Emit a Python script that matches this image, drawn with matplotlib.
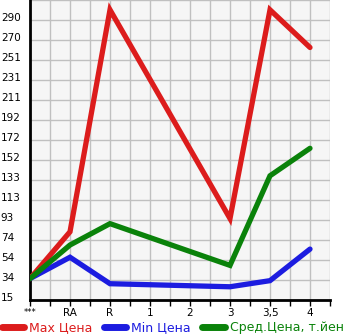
import numpy as np
import matplotlib.pyplot as plt
import matplotlib.transforms as mtransforms

# categories on x axis
categories = ["***", "RA", "R", "1", "2", "3", "3,5", "4"]
# values (nan = no data, line skips over)
max_price = [36, 82, 300, np.nan, np.nan, 95, 300, 263]
min_price = [36, 57, 31, np.nan, np.nan, 28, 34, 65]
avg_price = [36, 69, 90, np.nan, np.nan, 49, 137, 164]
ytick_labels = ["15", "34", "54", "74", "93", "113", "133", "152", "172",
                "192", "211", "231", "251", "270", "290"]

red = "#dc1c1c"
blue = "#1c1ce0"
green = "#0a820a"

fig = plt.figure(figsize=(3.45, 3.35), dpi=100)
ax = fig.add_axes([30 / 345, 35 / 335, 300 / 345, 300 / 335])
ax.set_facecolor("#f6f6f6")

step = 275 / 14
yticks = [15 + k * step for k in range(15)]

x = np.arange(len(categories))
for vals, col, lab in [(max_price, red, "Max Цена"),
                       (min_price, blue, "Min Цена"),
                       (avg_price, green, "Сред.Цена, т.йен")]:
    v = np.array(vals, dtype=float)
    m = ~np.isnan(v)
    ax.plot(x[m], v[m], color=col, lw=3.8, solid_capstyle="round",
            solid_joinstyle="miter", label=lab, zorder=3)

ax.set_xlim(0, 7.5)
ax.set_ylim(15, 15 + 15 * step)

ax.set_xticks(x)
ax.set_xticks(x + 0.5, minor=True)
ax.set_xticklabels(categories, fontsize=7.5)
ax.set_yticks(yticks)
ax.set_yticks([15 + 15 * step], minor=True)
ax.set_yticklabels(ytick_labels, fontsize=7.5)

ax.grid(True, which="both", color="#c0c0c0", lw=1, zorder=0)
ax.set_axisbelow(True)

ax.tick_params(axis="x", which="both", length=4, width=1, pad=1.5)
ax.tick_params(axis="y", which="both", length=0, pad=21)
for t in ax.get_yticklabels():
    t.set_horizontalalignment("left")
    t.set_transform(t.get_transform() + mtransforms.ScaledTranslation(0, 3 / 100, fig.dpi_scale_trans))
ax.get_xticklabels()[0].set_fontsize(6)

for s in ["top", "right"]:
    ax.spines[s].set_visible(False)
for s in ["left", "bottom"]:
    ax.spines[s].set_linewidth(2)
    ax.spines[s].set_color("black")

leg = fig.legend(loc="center", bbox_to_anchor=(0.5, 7 / 335), ncol=3,
                 frameon=False, fontsize=9, handlelength=1.8, borderpad=0,
                 handletextpad=0.4, columnspacing=0.9)
for txt, col in zip(leg.get_texts(), [red, blue, green]):
    txt.set_color(col)
for h in leg.get_lines():
    h.set_linewidth(5)

fig.savefig("out.png", dpi=100)
